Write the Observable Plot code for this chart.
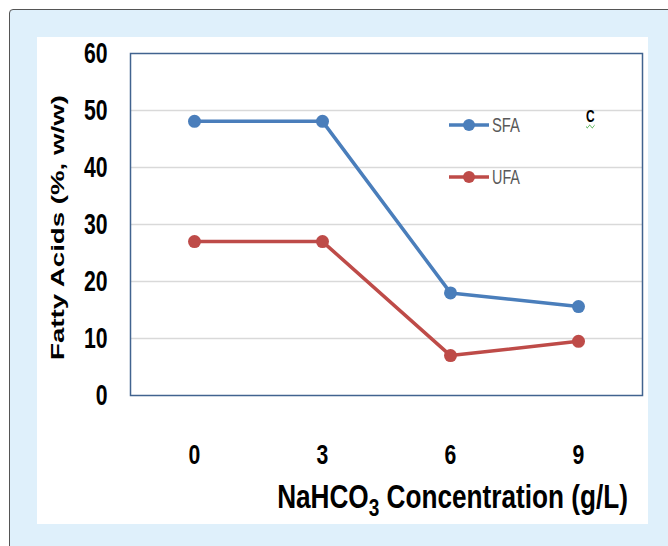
<!DOCTYPE html>
<html>
<head>
<meta charset="utf-8">
<script src="https://cdn.jsdelivr.net/npm/d3@7"></script>
<script src="https://cdn.jsdelivr.net/npm/@observablehq/plot@0.6"></script>
<style>
  html, body { margin: 0; padding: 0; background: #ffffff; }
  #page { position: relative; width: 668px; height: 546px; overflow: hidden; background: #ffffff; }
  #outer { position: absolute; left: 9px; top: 9px; width: 680px; height: 560px;
           background: #dff0fb; border: 1.5px solid #555; border-radius: 4px; box-sizing: border-box; }
  #panel { position: absolute; left: 37px; top: 37px; width: 611px; height: 487px; background: #ffffff; }
  #chart, #legend { position: absolute; left: 0; top: 0; }
  #mark { position: absolute; left: 586px; top: 108px; font-family: "Liberation Sans", sans-serif; font-weight: bold;
          font-size: 17px; line-height: 17px; color: #000; transform: scaleX(0.7); transform-origin: left top;
          text-decoration: underline wavy #2a9d2a; text-decoration-thickness: 1px; text-underline-offset: 2px; }
</style>
</head>
<body>
<div id="page">
  <div id="outer"></div>
  <div id="panel"></div>
  <div id="chart"></div>
  <div id="legend"></div>
  <div id="mark">C</div>
</div>
<script>
// NaHCO3 concentrations (g/L) and fatty acid contents (%, w/w)
const concentrations = ["0", "3", "6", "9"];
const sfa = [48.1, 48.1, 18.0, 15.6];
const ufa = [27.0, 27.0, 7.0, 9.5];
const seriesNames = ["SFA", "UFA"];
const seriesColors = ["#4a7ebb", "#be4b48"];
const yTicks = [0, 10, 20, 30, 40, 50, 60];
const gridValues = [10, 20, 30, 40, 50];
const xTitleParts = ["NaHCO", "3", " Concentration (g/L)"];
const yTitle = "Fatty Acids (%, w/w)";

const rows = [
  ...concentrations.map((c, i) => ({conc: c, value: sfa[i], series: seriesNames[0]})),
  ...concentrations.map((c, i) => ({conc: c, value: ufa[i], series: seriesNames[1]}))
];

const font = '"Liberation Sans", Arial, sans-serif';

const chart = Plot.plot({
  width: 668,
  height: 546,
  marginLeft: 130,
  marginRight: 26,
  marginTop: 53,
  marginBottom: 151,
  style: {background: "transparent", fontFamily: font},
  x: {type: "point", domain: concentrations, padding: 0.5},
  y: {domain: [0, 60]},
  color: {domain: seriesNames, range: seriesColors},
  marks: [
    Plot.ruleY(gridValues, {stroke: "#d9d9d9", strokeWidth: 1.5}),
    Plot.frame({stroke: "#41638f", strokeWidth: 1.5}),
    Plot.axisY({ticks: yTicks, tickSize: 0, tickPadding: 23, fontSize: 29, fontWeight: "bold", fill: "#000", label: null}),
    Plot.axisX({tickSize: 0, tickPadding: 49, fontSize: 27, fontWeight: "bold", fill: "#000", label: null}),
    Plot.line(rows, {x: "conc", y: "value", z: "series", stroke: "series", strokeWidth: 3.5}),
    Plot.dot(rows, {x: "conc", y: "value", fill: "series", r: 6.5}),
    // axis titles
    Plot.text([yTitle], {frameAnchor: "left", text: d => d, rotate: -90, textAnchor: "middle", lineAnchor: "middle",
                         dx: -72, dy: 3, fontSize: 18, fontWeight: "bold", fill: "#000"}),
    Plot.text([xTitleParts.join("")], {frameAnchor: "bottom", text: d => d, lineAnchor: "bottom",
                                       dx: 66, dy: 112, fontSize: 33, fontWeight: "bold", fill: "#000"})
  ]
});

document.getElementById("chart").appendChild(chart);
const svg = d3.select(chart);

// squeeze a text horizontally (in its own reading direction) to a target length;
// a numeric x is folded into the transform, the em-based line offset in y is kept
function squeezeTo(node, target) {
  const t = d3.select(node);
  const w = node.getBBox().width;
  const xa = t.attr("x");
  const x = xa && !/em/.test(xa) ? parseFloat(xa) : 0;
  if (x) t.attr("x", null);
  const tr = t.attr("transform") || "";
  t.attr("transform", `${tr} translate(${x},0) scale(${target / w},1)`);
}

// narrow, tall tick numerals
svg.selectAll("g[aria-label='y-axis tick label'] text, g[aria-label='x-axis tick label'] text")
  .each(function () { squeezeTo(this, 11.8 * this.textContent.length); });

// y title spread along its full length
svg.selectAll("text").filter(function () { return this.textContent === yTitle; })
  .each(function () {
    const t = d3.select(this);
    const w = this.getComputedTextLength();
    const tr = t.attr("transform") || "";
    t.attr("transform", `${tr} scale(${265 / w},1)`);
  });

// x title with subscript 3
svg.selectAll("text").filter(function () { return this.textContent === xTitleParts.join(""); })
  .each(function () {
    const t = d3.select(this).text("");
    t.append("tspan").text(xTitleParts[0]);
    t.append("tspan").text(xTitleParts[1]).attr("font-size", 24).attr("baseline-shift", -9);
    t.append("tspan").text(xTitleParts[2]);
    squeezeTo(this, 351);
  });

// legend: line-with-dot swatches beside the series names
const legend = d3.select("#legend").append("svg").attr("width", 668).attr("height", 546)
  .style("font-family", font);
seriesNames.forEach((name, i) => {
  const g = legend.append("g").attr("transform", `translate(449,${125 + i * 52})`);
  g.append("line").attr("x1", 0).attr("x2", 40).attr("stroke", seriesColors[i]).attr("stroke-width", 3.5);
  g.append("circle").attr("cx", 20).attr("r", 6).attr("fill", seriesColors[i]);
  const txt = g.append("text").attr("dy", "0.36em").attr("font-size", 20).attr("fill", "#595959").text(name);
  const w = txt.node().getComputedTextLength();
  txt.attr("transform", `translate(43,0) scale(${28 / w},1)`);
});
</script>
</body>
</html>
